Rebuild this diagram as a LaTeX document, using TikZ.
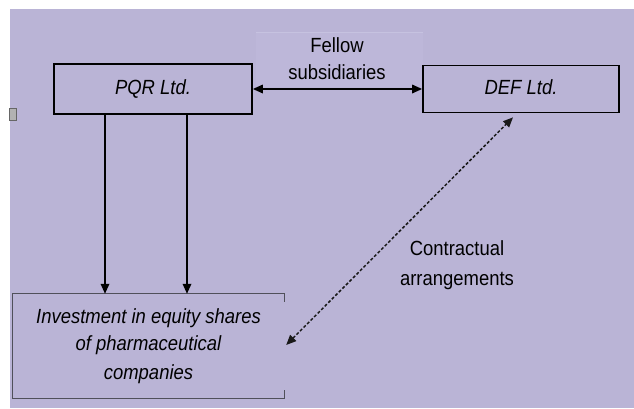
\documentclass[tikz,border=0pt]{standalone}
\usepackage{fontspec}
\setmainfont{Liberation Sans}
\usetikzlibrary{arrows.meta,calc}
\definecolor{bgl}{RGB}{186,180,214}
\definecolor{bgfel}{RGB}{189,183,217}
\definecolor{bgfelline}{RGB}{198,194,224}
\definecolor{invline}{RGB}{80,80,90}
\newcommand{\dtxt}[1]{\scalebox{0.9}[1]{\fontsize{20.5}{27}\selectfont\begin{tabular}{@{}c@{}}#1\end{tabular}}}
\newcommand{\dtxti}[1]{\scalebox{0.9}[1]{\fontsize{20.5}{27}\selectfont\itshape\begin{tabular}{@{}c@{}}#1\end{tabular}}}
\tikzset{
  entbox/.style={draw=black, line width=1.7pt, minimum width=198pt, minimum height=49pt, inner sep=0pt},
  lbl/.style={inner sep=0pt},
  solidarr/.style={line width=1.7pt, -{Triangle[length=10pt,width=8.5pt]}},
  solidboth/.style={line width=1.7pt, {Triangle[length=10pt,width=8.5pt]}-{Triangle[length=10pt,width=8.5pt]}},
  dasharr/.style={line width=1.5pt, dash pattern=on 3pt off 2pt, black!90, {Triangle[length=10pt,width=8.5pt]}-{Triangle[length=10pt,width=8.5pt]}}
}
\begin{document}
\begin{tikzpicture}[x=1pt,y=1pt]
\useasboundingbox (0,0) rectangle (634,408);
\fill[white] (0,0) rectangle (634,408);
\fill[bgl] (10,0) rectangle (634,399);
% lighter panel behind the label
\fill[bgfel] (256,321) rectangle (423,375);
\draw[bgfelline, line width=1pt] (256,375) -- (423,375);
% small grey marker at left edge
\fill[gray!60, draw=gray!80!black, line width=0.4pt] (9,288) rectangle (16,300);

\node[entbox, minimum width=198pt, minimum height=50pt] (pqr) at (153,319) {\dtxti{PQR Ltd.}};
\node[entbox, minimum width=196pt, minimum height=47pt] (def) at (521,319) {\dtxti{DEF Ltd.}};
\node[lbl, minimum width=271pt, minimum height=104pt] (inv) at (148.5,62) {\dtxti{Investment in equity shares\\[0.5pt]of pharmaceutical\\[1.5pt]companies}};
\draw[invline, line width=1.2pt] (inv.north east) ++(0,-8) -- (inv.north east) -- (inv.north west) -- (inv.south west) -- (inv.south east) -- ++(0,8);

\node[lbl] (fel) at (337,347) {\dtxt{Fellow\\subsidiaries}};
\node[lbl] (con) at (457,143) {\dtxt{Contractual\\[3pt]arrangements}};

\draw[solidboth] (pqr.east) -- (def.west);
\draw[solidarr] ([xshift=-48pt]pqr.south) -- ([xshift=-48pt]pqr.south |- inv.north);
\draw[solidarr] ([xshift=34pt]pqr.south) -- ([xshift=34pt]pqr.south |- inv.north);
\draw[dasharr] ([xshift=2pt,yshift=1pt]inv.east) -- ([xshift=-8pt,yshift=-4pt]def.south);
\end{tikzpicture}
\end{document}
